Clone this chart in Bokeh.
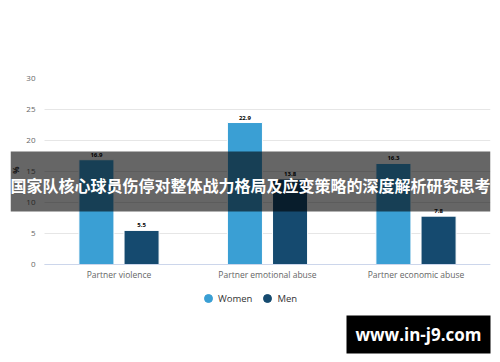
import math
from bokeh.plotting import figure
from bokeh.models import (ColumnDataSource, Range1d, Legend, LegendItem, Grid,
                          BoxAnnotation, Label, LabelSet, FixedTicker)
from bokeh.core.properties import value
from bokeh.embed import file_html
from bokeh.resources import INLINE

categories = ["Partner violence", "Partner emotional abuse", "Partner economic abuse"]
women = [16.9, 22.9, 16.3]
men = [5.5, 13.8, 7.8]
y_ticks = [0, 5, 10, 15, 20, 25, 30]
series_names = ["Women", "Men"]
banner_text = "国家队核心球员伤停对整体战力格局及应变策略的深度解析研究思考"
watermark_text = "www.in-j9.com"

women_color = "#3a9fd4"
men_color = "#154a6f"

centers = [i + 0.5 for i in range(len(categories))]
off = 0.152
bw = 0.236
src = ColumnDataSource(dict(
    xw=[c - off for c in centers], xm=[c + off for c in centers],
    women=women, men=men,
    women_lbl=[f"{v:.1f}" for v in women],
    men_lbl=[f"{v:.1f}" for v in men],
))

x_start = -0.2306
y_max = 30
y_start = -y_max * 98 / 186
p = figure(frame_width=480, frame_height=284,
           x_range=Range1d(x_start, len(categories) + 0.0017),
           y_range=Range1d(y_start, y_max), x_axis_location="above",
           output_backend="svg", toolbar_location=None,
           min_border_left=10, min_border_right=10, min_border_top=78, min_border_bottom=0)
p.outline_line_color = None
p.background_fill_color = "white"
p.border_fill_color = "white"

# grid restricted to the plotting area right of the y labels
p.xgrid.grid_line_color = None
p.ygrid.grid_line_color = "#e6e6e6"
p.ygrid.ticker = FixedTicker(ticks=y_ticks)
if "cross_bounds" in Grid.properties():
    p.ygrid.cross_bounds = (0, len(categories))
else:
    p.add_layout(BoxAnnotation(left=x_start, right=0, fill_color="white", fill_alpha=1,
                               line_color=None, level="underlay"))

p.vbar(x="xw", top="women", width=bw, source=src,
       fill_color=women_color, line_color="white", line_width=1)
p.vbar(x="xm", top="men", width=bw, source=src,
       fill_color=men_color, line_color="white", line_width=1)

for col, lbl, xc in (("women", "women_lbl", "xw"), ("men", "men_lbl", "xm")):
    p.add_layout(LabelSet(x=xc, y=col, text=lbl, source=src,
                          text_align="center", text_baseline="bottom", y_offset=3,
                          text_font=value("Open Sans"), text_font_size="6px",
                          text_font_style="bold", text_color="#000000"))

# y axis (labels pulled inside the frame)
p.yaxis.ticker = FixedTicker(ticks=y_ticks)
p.yaxis.axis_line_color = None
p.yaxis.major_tick_line_color = None
p.yaxis.minor_tick_line_color = None
p.yaxis.major_tick_out = 0
p.yaxis.minor_tick_out = 0
p.yaxis.major_label_text_font = "Open Sans"
p.yaxis.major_label_text_font_size = "8px"
p.yaxis.major_label_text_color = "#666666"
p.yaxis.major_label_standoff = -25

# x axis drawn at y = 0, labels pulled below the line
xa = p.xaxis[0]
xa.fixed_location = 0
xa.ticker = FixedTicker(ticks=centers)
xa.major_label_overrides = {c: n for c, n in zip(centers, categories)}
xa.bounds = (0, len(categories))
xa.axis_line_color = "#ccd6eb"
xa.major_tick_line_color = None
xa.minor_tick_line_color = None
xa.major_tick_out = 0
xa.major_tick_in = 0
xa.minor_tick_out = 0
xa.minor_tick_in = 0
xa.major_label_text_font = "Open Sans"
xa.major_label_text_font_size = "8.5px"
xa.major_label_text_color = "#666666"
xa.major_label_standoff = -15

p.add_layout(Label(x=15, y=15.2, x_units="canvas", y_units="data", text="%",
                   angle=math.pi / 2, text_align="center", text_baseline="middle",
                   text_font="Open Sans", text_font_size="8px", text_font_style="bold",
                   text_color="#333333"))

# legend with circle markers, inside the frame below the axis
nan = float("nan")
lw = p.scatter(x=[nan], y=[nan], marker="circle", size=9, fill_color=women_color, line_color=women_color)
lm = p.scatter(x=[nan], y=[nan], marker="circle", size=9, fill_color=men_color, line_color=men_color)
legend = Legend(items=[LegendItem(label=series_names[0], renderers=[lw]),
                       LegendItem(label=series_names[1], renderers=[lm])],
                orientation="horizontal", location=(188, 54),
                label_text_font="Open Sans", label_text_font_size="9.5px",
                label_text_color="#333333", border_line_color=None,
                background_fill_alpha=0, padding=0, margin=0, spacing=5,
                glyph_width=20, glyph_height=20, label_standoff=0)
p.add_layout(legend)

# banner overlay
p.add_layout(BoxAnnotation(left=10, right=490, top=151, bottom=211,
                           left_units="canvas", right_units="canvas",
                           top_units="canvas", bottom_units="canvas",
                           fill_color="black", fill_alpha=0.6, line_color=None, level="overlay"))
p.add_layout(Label(x=250, y=184, x_units="canvas", y_units="canvas", text=banner_text,
                   text_align="center", text_baseline="middle",
                   text_font="Noto Sans CJK SC", text_font_size="16px",
                   text_font_style="bold", text_color="white", level="overlay"))

# watermark
p.add_layout(BoxAnnotation(left=346, right=491, top=315, bottom=353,
                           left_units="canvas", right_units="canvas",
                           top_units="canvas", bottom_units="canvas",
                           fill_color="black", fill_alpha=1.0, line_color=None, level="overlay"))
p.add_layout(Label(x=418, y=334, x_units="canvas", y_units="canvas", text=watermark_text,
                   text_align="center", text_baseline="middle",
                   text_font="Open Sans", text_font_size="17px",
                   text_font_style="bold", text_color="white", level="overlay"))

open("out.html", "w").write(file_html(p, INLINE))
